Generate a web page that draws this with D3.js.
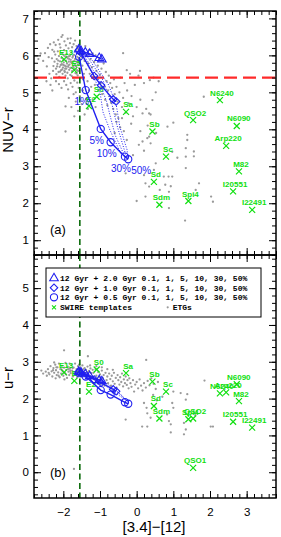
<!DOCTYPE html>
<html>
<head>
<meta charset="utf-8">
<script src="https://cdn.jsdelivr.net/npm/d3@7"></script>
<style>
body { margin: 0; background: #fff; }
</style>
</head>
<body>
<div id="container"></div>
<script>
// SWIRE templates
const templateNames = ["E13","E5","E2","S0","Sa","Sb","Sc","Sd","Sdm","Spi4","QSO1","QSO2","N6240","Arp220","N6090","M82","I20551","I22491"];
const templateX     = [-1.98,-1.70,-1.30,-1.09,-0.29,0.43,0.80,0.47,0.62,1.41,1.54,1.54,2.27,2.44,2.73,2.79,2.63,3.15];
const templateNUVr  = [5.89,5.60,4.63,4.88,4.47,3.94,3.26,2.58,1.96,2.06,null,4.25,4.79,3.55,4.09,2.86,2.32,1.82];
const templateUr    = [2.71,2.48,2.19,2.79,2.69,2.46,2.19,1.80,1.46,1.44,0.12,1.46,2.14,2.17,2.39,1.93,1.37,1.21];

// burst models: 12 Gyr + young burst, fractions 0.1,1,5,10,30,50%
const burstAges = ["2.0","1.0","0.5"];
const burstFracs = [0.1, 1, 5, 10, 30, 50];
const pctLabels = ["1%","5%","10%","30%","50%"];

const tri_NUVr = [[-1.58,6.16],[-1.52,6.12],[-1.40,6.08],[-1.28,6.04],[-1.02,5.93],[-0.95,5.89]];
const dia_NUVr = [[-1.58,6.14],[-1.52,6.07],[-1.16,5.44],[-0.97,5.19],[-0.64,4.81],[-0.56,4.75]];
const cir_NUVr = [[-1.57,5.96],[-1.39,5.06],[-0.98,4.01],[-0.71,3.65],[-0.32,3.26],[-0.23,3.19]];

const tri_Ur = [[-1.58,2.73],[-1.52,2.71],[-1.40,2.66],[-1.28,2.61],[-1.02,2.50],[-0.95,2.47]];
const dia_Ur = [[-1.58,2.73],[-1.52,2.70],[-1.16,2.52],[-0.97,2.43],[-0.64,2.25],[-0.56,2.20]];
const cir_Ur = [[-1.57,2.69],[-1.39,2.60],[-0.98,2.23],[-0.71,2.11],[-0.32,1.90],[-0.23,1.86]];

// dotted model variants
const dotted_NUVr = [
  [[-1.55,6.09],[-1.19,5.47],[-1.00,5.01],[-0.92,4.47],[-0.73,3.98],[-0.41,3.30]],
  [[-1.49,6.09],[-1.06,5.39],[-0.82,4.75],[-0.73,4.39],[-0.59,3.85],[-0.32,3.26]],
  [[-1.41,6.06],[-0.92,5.33],[-0.67,4.66],[-0.54,4.12],[-0.27,3.22]],
  [[-1.33,6.04],[-0.78,5.23],[-0.56,4.68],[-0.46,4.07],[-0.26,3.44],[-0.24,3.20]]
];
const dotted_Ur = [
  [[-1.50,2.70],[-1.00,2.45],[-0.60,2.17],[-0.30,1.96]],
  [[-1.45,2.70],[-0.90,2.42],[-0.50,2.16],[-0.25,1.92]],
  [[-1.40,2.69],[-0.80,2.40],[-0.45,2.13],[-0.22,1.89]]
];

// ETGs
const etg_NUVr = [
  [-2.31,5.92],[-2.27,5.71],[-2.24,5.83],[-2.22,6.02],[-2.2,5.64],[-2.18,5.9],[-2.16,5.77],[-2.15,6.11],[-2.13,5.55],[-2.12,5.98],
  [-2.1,5.69],[-2.09,5.84],[-2.08,6.21],[-2.06,5.6],[-2.05,5.93],[-2.04,5.76],[-2.03,6.05],[-2.02,5.5],[-2.01,5.67],[-2.0,5.88],
  [-1.99,5.81],[-1.98,6.14],[-1.97,5.58],[-1.96,5.72],[-1.95,5.97],[-1.94,5.45],[-1.93,5.86],[-1.92,5.64],[-1.91,6.03],[-1.9,5.78],
  [-1.89,5.53],[-1.88,5.92],[-1.87,5.69],[-1.86,6.19],[-1.85,5.83],[-1.84,5.61],[-1.83,5.75],[-1.82,5.99],[-1.81,5.47],[-1.8,5.88],
  [-1.79,5.66],[-1.78,6.08],[-1.77,5.79],[-1.76,5.57],[-1.75,5.94],[-1.74,5.71],[-1.73,5.84],[-1.72,5.4],[-1.71,6.01],[-1.7,5.63],
  [-1.69,5.77],[-1.68,5.9],[-1.67,5.52],[-1.66,6.12],[-1.65,5.7],[-1.64,5.83],[-1.63,5.6],[-1.62,5.96],[-1.61,5.46],[-1.6,5.74],
  [-1.59,5.87],[-1.58,6.04],[-1.57,5.65],[-1.56,5.79],
  [-2.28,5.58],[-2.25,6.1],[-2.19,5.49],[-2.14,5.86],[-2.11,5.42],[-2.07,5.74],[-2.03,5.62],[-1.99,6.0],[-1.96,5.55],[-1.93,5.7],
  [-1.9,5.95],[-1.88,5.38],[-1.86,5.73],[-1.84,5.9],[-1.81,5.66],[-1.79,5.82],[-1.77,5.44],[-1.74,5.98],[-1.72,5.68],[-1.7,5.85],
  [-1.67,5.73],[-1.64,5.51],[-1.62,5.81],[-1.6,5.58],[-1.58,5.92],[-2.17,5.7],[-2.0,5.74],[-1.85,5.97],[-1.95,5.64],[-2.09,5.56],
  [-2.62,6.05],[-2.55,5.85],[-2.5,6.06],[-2.45,5.7],[-2.42,6.2],[-2.38,5.5],[-2.36,6.3],[-2.33,5.38],[-2.3,6.15],[-2.26,6.35],
  [-2.21,6.28],[-2.14,6.42],[-2.1,6.3],[-2.05,6.5],[-2.02,6.55],[-1.97,6.38],[-1.93,6.27],[-1.88,6.45],[-1.82,6.33],[-1.8,6.46],
  [-1.76,6.22],[-1.72,6.3],[-1.68,6.4],[-1.64,6.25],[-1.6,6.18],[-2.4,5.95],[-2.46,5.3],[-2.35,5.2],[-2.2,5.3],[-2.12,5.22],
  [-2.05,5.12],[-1.98,5.3],[-1.92,5.2],[-1.87,5.08],[-1.8,5.25],[-1.75,5.15],[-1.7,5.32],[-1.66,5.0],[-1.62,5.26],[-1.58,5.12],
  [-2.68,5.9],[-2.3,5.05],
  [-1.85,4.85],[-1.78,4.6],[-1.72,4.95],[-1.66,4.75],[-1.6,4.5],[-1.55,4.9],[-1.5,4.68],[-1.47,5.05],[-1.42,4.4],[-1.38,4.82],
  [-1.33,4.55],[-1.7,4.35],[-1.94,4.62],[-1.94,3.94],
  [-1.52,6.22],[-1.5,5.95],[-1.48,5.72],[-1.46,6.1],[-1.44,5.5],[-1.42,5.85],[-1.4,6.25],[-1.38,5.62],[-1.36,5.98],[-1.34,5.3],
  [-1.32,5.78],[-1.3,6.15],[-1.28,5.5],[-1.26,5.9],[-1.24,5.15],[-1.22,5.68],[-1.2,6.05],[-1.18,5.42],[-1.16,5.82],[-1.14,5.2],
  [-1.12,6.0],[-1.1,5.58],[-1.08,5.35],[-1.06,5.72],[-1.04,5.05],[-1.02,5.9],[-1.0,5.48],[-0.98,5.25],[-0.96,5.64],[-0.94,4.95],
  [-0.92,5.4],[-0.9,5.78],[-0.88,5.15],[-0.86,4.8],[-0.84,5.55],[-0.82,5.3],[-0.8,4.65],[-0.78,5.05],[-0.76,5.45],[-0.74,4.9],
  [-0.72,5.25],[-0.7,4.72],[-0.67,5.12],[-0.64,4.55],[-0.62,5.35],[-0.6,4.95],[-0.57,4.4],[-0.55,5.15],[-0.52,4.75],[-0.5,4.3],
  [-1.46,5.35],[-1.3,5.05],[-1.2,4.8],[-1.12,4.6],
  [-0.47,5.0],[-0.44,5.4],[-0.4,4.6],[-0.37,4.85],[-0.33,5.25],[-0.3,4.45],[-0.26,5.05],[-0.22,4.7],[-0.18,5.5],[-0.14,4.9],
  [-0.1,4.35],[-0.05,5.2],[0.0,4.6],[0.05,5.45],[0.1,4.8],[0.16,4.43],[0.2,5.25],[0.26,4.55],[0.34,4.43],[0.38,4.4],
  [0.43,4.79],[0.46,5.4],[0.52,5.0],[0.6,5.3],[-0.15,4.15],[0.3,4.1],[-0.27,5.6],[0.09,5.58],[0.36,5.33],[-0.37,6.06],
  [-0.27,3.71],[0.06,3.58],[0.16,3.67],[0.2,3.42],[0.34,3.8],[0.52,3.08],[0.2,2.76],[0.34,2.45],[0.24,2.54],[0.0,2.06],
  [0.24,2.18],[0.74,2.72],[0.87,2.72],[0.97,2.72],[0.78,2.5],[0.93,2.46],[0.88,2.31],[0.88,1.87],[1.11,3.23],[1.34,2.95],
  [1.38,3.85],[1.38,3.71],[1.34,3.49],[1.34,3.26],[1.56,3.4],[1.56,3.27],[1.7,2.54],[1.61,2.36],[2.03,2.18],[2.08,2.04],
  [1.32,1.53],[-0.3,2.81],[0.63,2.36],[0.47,2.9],[0.38,3.62],[0.53,3.9],[0.29,3.76],[1.0,4.18],[0.84,4.07],[0.97,3.39],
  [1.83,4.88],[-0.6,3.9],[-0.45,4.05],[0.1,3.95],[-0.1,3.3],[-0.55,4.2],[-0.4,4.3],[-0.35,3.95]
];

const etg_Ur = [
  [-2.48,2.73],[-2.42,2.8],[-2.38,2.66],[-2.35,2.88],[-2.32,2.74],[-2.3,2.6],[-2.27,2.83],[-2.25,2.7],[-2.22,2.92],[-2.2,2.77],
  [-2.18,2.64],[-2.16,2.85],[-2.14,2.71],[-2.12,2.95],[-2.1,2.58],[-2.08,2.8],[-2.06,2.68],[-2.04,2.89],[-2.02,2.75],[-2.0,2.62],
  [-1.98,2.84],[-1.96,2.7],[-1.94,2.97],[-1.92,2.78],[-1.9,2.56],[-1.88,2.87],[-1.86,2.73],[-1.84,2.64],[-1.82,2.81],[-1.8,2.69],
  [-1.78,2.91],[-1.76,2.76],[-1.74,2.6],[-1.72,2.84],[-1.7,2.72],[-1.68,2.95],[-1.66,2.66],[-1.64,2.8],[-1.62,2.58],[-1.6,2.88],
  [-1.58,2.74],[-1.56,2.63],[-1.54,2.85],[-1.52,2.77],[-1.5,2.68],[-1.48,2.9],[-1.46,2.72],[-1.44,2.62],[-1.42,2.83],[-1.4,2.7],
  [-1.38,2.78],[-1.36,2.58],[-1.34,2.87],[-1.32,2.66],[-1.3,2.75],[-1.28,2.55],[-1.26,2.82],[-1.24,2.69],[-1.22,2.6],[-1.2,2.78],
  [-2.4,2.7],[-2.28,2.77],[-2.19,2.85],[-2.13,2.62],[-2.05,2.79],[-1.99,2.71],[-1.93,2.66],[-1.87,2.8],[-1.81,2.75],[-1.75,2.83],
  [-1.69,2.64],[-1.63,2.72],[-1.57,2.92],[-1.51,2.6],[-1.45,2.8],[-1.39,2.64],[-1.33,2.72],[-1.27,2.9],[-2.21,2.55],[-1.97,2.52],
  [-1.83,2.95],[-2.45,2.62],[-2.55,2.68],[-2.6,2.76],
  [-1.18,2.7],[-1.15,2.52],[-1.12,2.8],[-1.1,2.62],[-1.08,2.45],[-1.05,2.72],[-1.02,2.58],[-1.0,2.66],[-0.98,2.4],[-0.95,2.76],
  [-0.92,2.55],[-0.9,2.64],[-0.88,2.35],[-0.85,2.7],[-0.82,2.5],[-0.8,2.6],[-0.78,2.42],[-0.75,2.68],[-0.72,2.53],[-0.7,2.35],
  [-0.68,2.62],[-0.65,2.47],[-0.62,2.7],[-0.6,2.4],[-0.57,2.56],[-0.55,2.3],[-0.52,2.64],[-0.5,2.5],[-0.47,2.38],[-0.45,2.58],
  [-0.42,2.45],[-0.4,2.68],[-0.37,2.33],[-0.35,2.52],[-0.32,2.42],[-0.3,2.6],[-0.27,2.37],[-0.25,2.5],[-0.22,2.28],[-0.2,2.55],
  [-1.1,2.88],[-0.95,2.85],[-0.8,2.8],[-0.65,2.78],
  [-0.17,2.42],[-0.14,2.32],[-0.1,2.5],[-0.07,2.19],[-0.04,2.38],[0.0,2.45],[0.04,2.28],[0.08,2.52],[0.12,2.35],[0.16,2.22],
  [0.2,2.42],[0.25,2.3],[0.3,2.48],[0.35,2.36],[0.4,2.55],[0.46,2.4],[0.52,2.26],[0.58,2.45],[0.26,3.05],[-1.33,3.15],
  [-1.98,3.31],[-2.25,2.98],
  [0.2,1.88],[0.27,1.75],[0.38,1.48],[0.15,1.24],[0.29,1.24],[0.88,1.39],[0.93,1.3],[0.93,1.08],[0.83,1.57],[1.0,1.75],
  [0.97,1.88],[1.2,2.15],[1.38,2.12],[1.34,1.97],[1.29,1.34],[1.34,1.16],[1.29,1.03],[2.02,1.24],[2.08,1.24],[-0.3,1.43],
  [-1.71,0.09],[0.29,1.6],[1.0,2.19],[1.85,2.49],[0.7,2.05],[0.55,1.95],[0.45,2.1],[1.6,1.55]
];

const xTicks = [-2, -1, 0, 1, 2, 3];

const blue = "#2020f0";
const green = "#10e010";
const gray = "#9a9a9a";
const sans = "'Liberation Sans', Arial, sans-serif";
const mono = "'Liberation Mono', 'DejaVu Sans Mono', monospace";

const w = 281, h = 537;
const left = 34, right = 276;

const x = d3.scaleLinear().domain([-2.8, 3.8]).range([left, right]);
const xMinor = d3.range(-14, 20).map(i => i / 5);

const panels = [
  { top: 11, bottom: 255, domain: [0.6, 7.2], ticks: [1,2,3,4,5,6,7], minor: d3.range(3, 37).map(i => i / 5),
    title: "NUV\u2212r", tag: "(a)", etg: etg_NUVr, tmpl: templateNUVr,
    tracks: [tri_NUVr, dia_NUVr, cir_NUVr], dotted: dotted_NUVr, redLine: 5.4, showX: false },
  { top: 255, bottom: 498, domain: [-0.7, 5.9], ticks: [0,1,2,3,4,5], minor: d3.range(-3, 30).map(i => i / 5),
    title: "u\u2212r", tag: "(b)", etg: etg_Ur, tmpl: templateUr,
    tracks: [tri_Ur, dia_Ur, cir_Ur], dotted: dotted_Ur, redLine: null, showX: true }
];

const svg = d3.select("#container").append("svg")
  .attr("width", w).attr("height", h)
  .style("font-family", sans);

const symTri = d3.symbol(d3.symbolTriangle).size(32);
const symDia = d3.symbol(d3.symbolSquare).size(28);
const xPath = s => `M${-s},${-s}L${s},${s}M${-s},${s}L${s},${-s}`;

function drawMarker(g, kind, px, py) {
  if (kind === 0) {
    g.append("path").attr("d", symTri()).attr("transform", `translate(${px},${py})`)
      .attr("fill", "none").attr("stroke", blue).attr("stroke-width", 1.1);
  } else if (kind === 1) {
    g.append("path").attr("d", symDia()).attr("transform", `translate(${px},${py}) rotate(45)`)
      .attr("fill", "none").attr("stroke", blue).attr("stroke-width", 1.1);
  } else {
    g.append("circle").attr("cx", px).attr("cy", py).attr("r", 3.6)
      .attr("fill", "none").attr("stroke", blue).attr("stroke-width", 1.1);
  }
}

panels.forEach((p, pi) => {
  const y = d3.scaleLinear().domain(p.domain).range([p.bottom, p.top]);
  const line = d3.line().x(d => x(d[0])).y(d => y(d[1]));

  svg.append("clipPath").attr("id", "clip" + pi)
    .append("rect").attr("x", left).attr("y", p.top)
    .attr("width", right - left).attr("height", p.bottom - p.top);

  const g = svg.append("g").attr("clip-path", `url(#clip${pi})`);

  // ETGs
  g.selectAll("circle.etg").data(p.etg).enter().append("circle")
    .attr("class", "etg")
    .attr("cx", d => x(d[0])).attr("cy", d => y(d[1])).attr("r", 1.15)
    .attr("fill", gray);

  // reference lines
  if (p.redLine !== null) {
    g.append("line").attr("x1", left).attr("x2", right)
      .attr("y1", y(p.redLine)).attr("y2", y(p.redLine))
      .attr("stroke", "#ff2a2a").attr("stroke-width", 2.2).attr("stroke-dasharray", "13,6");
  }
  g.append("line").attr("x1", x(-1.55)).attr("x2", x(-1.55))
    .attr("y1", p.top).attr("y2", p.bottom)
    .attr("stroke", "#0a6a0a").attr("stroke-width", 1.6).attr("stroke-dasharray", "6,3.5");

  // templates
  templateNames.forEach((name, i) => {
    const v = p.tmpl[i];
    if (v === null) return;
    const px = x(templateX[i]), py = y(v);
    g.append("path").attr("d", xPath(3)).attr("transform", `translate(${px},${py})`)
      .attr("stroke", green).attr("stroke-width", 1.2).attr("fill", "none");
    g.append("text").attr("x", px + 2).attr("y", py - 4.5)
      .attr("text-anchor", "middle").attr("font-size", 8).attr("font-weight", "bold")
      .attr("fill", green).text(name);
  });

  // dotted model tracks
  p.dotted.forEach(tr => {
    g.append("path").attr("d", line(tr)).attr("fill", "none")
      .attr("stroke", blue).attr("stroke-width", 1).attr("stroke-dasharray", "1,1.6");
  });

  // burst tracks
  p.tracks.forEach((tr, k) => {
    g.append("path").attr("d", line(tr)).attr("fill", "none")
      .attr("stroke", blue).attr("stroke-width", 1.4);
    tr.forEach(d => drawMarker(g, k, x(d[0]), y(d[1])));
  });

  if (pi === 0) {
    const cir = p.tracks[2];
    pctLabels.forEach((lab, i) => {
      const d = cir[i + 1];
      const dx = i === pctLabels.length - 1 ? 13 : -4;
      g.append("text").attr("x", x(d[0]) + dx).attr("y", y(d[1]) + 15)
        .attr("text-anchor", "middle").attr("font-size", 10)
        .attr("fill", blue).text(lab);
    });
  }

  // axes
  const fix = s => {
    s.select(".domain").remove();
    s.attr("font-size", 11.5).attr("font-family", sans);
    s.selectAll(".tick line").attr("stroke-width", 1);
  };
  svg.append("g").attr("transform", `translate(${left},0)`)
    .call(d3.axisLeft(y).tickValues(p.ticks).tickSize(-7).tickPadding(5).tickFormat(d3.format("d"))).call(fix);
  svg.append("g").attr("transform", `translate(${left},0)`)
    .call(d3.axisLeft(y).tickValues(p.minor).tickSize(-4).tickFormat("")).call(fix);
  svg.append("g").attr("transform", `translate(${right},0)`)
    .call(d3.axisRight(y).tickValues(p.ticks).tickSize(-7).tickFormat("")).call(fix);
  svg.append("g").attr("transform", `translate(${right},0)`)
    .call(d3.axisRight(y).tickValues(p.minor).tickSize(-4).tickFormat("")).call(fix);

  const xb = d3.axisBottom(x).tickValues(xTicks).tickSize(-7).tickPadding(10);
  xb.tickFormat(p.showX ? d3.format("d") : "");
  svg.append("g").attr("transform", `translate(0,${p.bottom})`).call(xb).call(fix);
  svg.append("g").attr("transform", `translate(0,${p.bottom})`)
    .call(d3.axisBottom(x).tickValues(xMinor).tickSize(-4).tickFormat("")).call(fix);
  svg.append("g").attr("transform", `translate(0,${p.top})`)
    .call(d3.axisTop(x).tickValues(xTicks).tickSize(-7).tickFormat("")).call(fix);
  svg.append("g").attr("transform", `translate(0,${p.top})`)
    .call(d3.axisTop(x).tickValues(xMinor).tickSize(-4).tickFormat("")).call(fix);

  // frame
  svg.append("rect").attr("x", left).attr("y", p.top)
    .attr("width", right - left).attr("height", p.bottom - p.top)
    .attr("fill", "none").attr("stroke", "#000").attr("stroke-width", 1.5);

  // panel tag and y title
  svg.append("text").attr("x", 50).attr("y", p.bottom - 21)
    .attr("font-size", 13).text(p.tag);
  const cy = pi === 0 ? 130 : 378;
  svg.append("text").attr("transform", `translate(13,${cy}) rotate(-90)`)
    .attr("text-anchor", "middle").attr("font-size", 15).text(p.title);
});

// x title
svg.append("text").attr("x", 154).attr("y", 532)
  .attr("text-anchor", "middle").attr("font-size", 15).text("[3.4]\u2212[12]");

// legend
const lg = svg.append("g").attr("transform", "translate(46,268)");
lg.append("rect").attr("width", 215).attr("height", 49)
  .attr("fill", "#fff").attr("stroke", "#000").attr("stroke-width", 1);
const rowY = [10.3, 19.7, 29.3, 39.3];
const legText = (xx, yy, s) => lg.append("text").attr("x", xx).attr("y", yy)
  .style("font-family", mono).attr("font-weight", "bold").attr("font-size", 8)
  .style("white-space", "pre").text(s);
burstAges.forEach((age, k) => {
  drawMarker(lg, k, 8, rowY[k]);
  legText(14, rowY[k] + 3, `12 Gyr + ${age} Gyr ${burstFracs.join(", ")}%`);
});
lg.append("path").attr("d", xPath(2)).attr("transform", `translate(8,${rowY[3]})`)
  .attr("stroke", green).attr("stroke-width", 1.1).attr("fill", "none");
legText(14, rowY[3] + 3, "SWIRE templates");
lg.append("circle").attr("cx", 121.7).attr("cy", rowY[3]).attr("r", 1.1).attr("fill", gray);
legText(126.7, rowY[3] + 3, "ETGs");
</script>
</body>
</html>
